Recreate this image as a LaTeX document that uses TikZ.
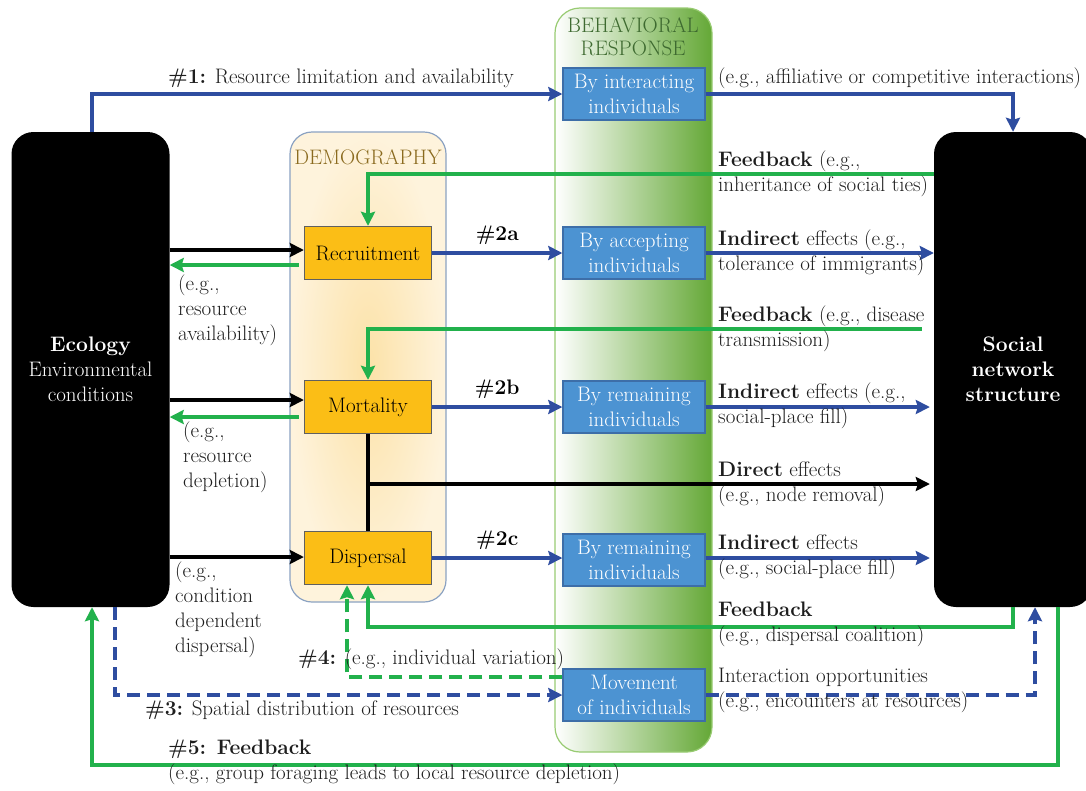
\documentclass[tikz,border=0pt]{standalone}
\usepackage{fontspec}
\usetikzlibrary{arrows.meta,positioning}

\definecolor{arrblue}{HTML}{2E4DA0}
\definecolor{arrgreen}{HTML}{22B14C}
\definecolor{boxblue}{HTML}{4C93D2}
\definecolor{boxblueline}{HTML}{3D6EA8}
\definecolor{boxorange}{HTML}{FBBE16}
\definecolor{demoline}{HTML}{8BA2C2}
\definecolor{demoin}{HTML}{FCE2A8}
\definecolor{demoout}{HTML}{FEF3DC}
\definecolor{behgreen}{HTML}{64A836}
\definecolor{behline}{HTML}{98CB72}
\definecolor{demotext}{HTML}{8A6A1E}
\definecolor{behtext}{HTML}{3E6A30}
\definecolor{lbltext}{HTML}{1E1E1E}

\tikzset{
  bigbox/.style={fill=black, rounded corners=22pt, text=white, align=center,
    minimum width=158pt, minimum height=475pt, inner sep=0pt},
  demobox/.style={fill=boxorange, draw=gray!75!black, line width=1.4pt,
    minimum width=127pt, minimum height=53pt, inner sep=0pt},
  behbox/.style={fill=boxblue, draw=boxblueline, line width=1.4pt, text=white,
    minimum width=142pt, minimum height=52pt, inner sep=0pt, align=center},
  lbl/.style={anchor=west, inner sep=0pt, align=left, text=lbltext},
  blueline/.style={arrblue, line width=4pt},
  greenline/.style={arrgreen, line width=4pt},
  blackline/.style={black, line width=4.5pt},
  bluedash/.style={arrblue, line width=4.5pt, dash pattern=on 13pt off 7pt},
  greendash/.style={arrgreen, line width=4.5pt, dash pattern=on 13pt off 7pt},
}

\begin{document}
\begin{tikzpicture}[x=1pt, y=-1pt, >={Stealth[length=14pt,width=14pt,inset=2pt]},
  font=\fontsize{21}{25}\selectfont]
\useasboundingbox (0,0) rectangle (1086,790);

% columns in the background
\node[draw=demoline, line width=1.2pt, rounded corners=22pt, inner color=demoin, outer color=demoout,
  minimum width=156pt, minimum height=470pt] (demo) at (368,367) {};
\node[text=demotext] (demotitle) at (368,157) {DEMOGRAPHY};
\node[draw=behline, line width=1.2pt, rounded corners=25pt, left color=white, right color=behgreen,
  minimum width=157pt, minimum height=744pt] (beh) at (633.5,380) {};
\node[text=behtext, align=center, font=\fontsize{21}{23}\selectfont] (behtitle) at (633,37) {BEHAVIORAL\\RESPONSE};

% ecology and social network
\node[bigbox] (eco) at (90.5,369.5) {\textbf{Ecology}\\Environmental\\conditions};
\node[bigbox] (social) at (1013,369.5) {\textbf{Social}\\\textbf{network}\\\textbf{structure}};

% demography boxes
\node[demobox] (recr) at (368,253) {Recruitment};
\node[demobox] (mort) at (368,407) {Mortality};
\node[demobox] (disp) at (368,558) {Dispersal};

% behavioral boxes
\node[behbox] (inter) at (634,94) {By interacting\\individuals};
\node[behbox] (accept) at (634,253) {By accepting\\individuals};
\node[behbox] (remainb) at (634,407) {By remaining\\individuals};
\node[behbox] (remainc) at (634,560) {By remaining\\individuals};
\node[behbox] (move) at (634,695) {Movement\\of individuals};

% #1
\draw[blueline,->] ([xshift=1.5pt]eco.north) |- (inter.west);
\draw[blueline,->] (inter.east) -| (social.north);

% ecology -> demography
\draw[blackline,->] ([yshift=3pt]recr.west -| eco.east) -- ([yshift=3pt]recr.west);
\draw[greenline,->] ([xshift=-5pt,yshift=-12pt]recr.west) -- ([yshift=-12pt]recr.west -| eco.east);
\draw[blackline,->] ([yshift=7pt]mort.west -| eco.east) -- ([yshift=7pt]mort.west);
\draw[greenline,->] ([xshift=-5pt,yshift=-10pt]mort.west) -- ([yshift=-10pt]mort.west -| eco.east);
\draw[blackline,->] ([yshift=1pt]disp.west -| eco.east) -- ([yshift=1pt]disp.west);

% #2a, #2b, #2c
\draw[blueline,->] (recr.east) -- node[above=3pt, text=black] {\textbf{\#2a}} (accept.west);
\draw[blueline,->] (mort.east) -- node[above=3pt, text=black] {\textbf{\#2b}} (remainb.west);
\draw[blueline,->] (disp.east) -- node[above=3pt, text=black] {\textbf{\#2c}} (disp.east -| remainc.west);
\draw[blueline,->] (accept.east) -- (accept.east -| social.west);
\draw[blueline,->] (remainb.east) -- ([xshift=-4pt]remainb.east -| social.west);
\draw[blueline,->] ([yshift=2pt]remainc.east) -- ([xshift=-4pt,yshift=2pt]remainc.east -| social.west);

% direct effects
\coordinate (split) at (368,484);
\draw[blackline] (mort.south) -- (disp.north);
\draw[blackline,->] (split) -- ([xshift=-4pt]split -| social.west);

% feedback
\draw[greenline,->] (social.west |- 0,174) -| (recr.north);
\draw[greenline,->] ([xshift=-12pt]social.west |- 0,329) -| (mort.north);
\draw[greenline,->] (social.south) -- ++(0,20) -| (disp.south);
\draw[greendash,->] ([yshift=18pt]move.west) -| ([xshift=-21pt]disp.south);

% #3 and #5
\draw[bluedash,->] ([xshift=24.5pt]eco.south) |- (move.west);
\draw[bluedash,->] (move.east) -| ([xshift=22pt]social.south);
\draw[greenline,->] ([xshift=45pt]social.south) -- ++(0,158) -| ([xshift=1.5pt]eco.south);

% labels
\node[lbl] (l1) at (168,78) {\textbf{\#1:} Resource limitation and availability};
\node[lbl] (l2) at (718,78) {(e.g., affiliative or competitive interactions)};
\node[lbl] (l3) at (718,173.5) {\textbf{Feedback} (e.g.,\\inheritance of social ties)};
\node[lbl] (l4) at (178,310) {(e.g.,\\resource\\availability)};
\node[lbl] (l6) at (718,252.5) {\textbf{Indirect} effects (e.g.,\\tolerance of immigrants)};
\node[lbl] (l7) at (718,329) {\textbf{Feedback} (e.g., disease\\transmission)};
\node[lbl] (l8) at (183,457.5) {(e.g.,\\resource\\depletion)};
\node[lbl] (l9) at (718,405.5) {\textbf{Indirect} effects (e.g.,\\social-place fill)};
\node[lbl] (l10) at (718,484.5) {\textbf{Direct} effects\\(e.g., node removal)};
\node[lbl] (l11) at (175,610) {(e.g.,\\condition\\dependent\\dispersal)};
\node[lbl] (l12) at (718,557) {\textbf{Indirect} effects\\(e.g., social-place fill)};
\node[lbl] (l13) at (718,624.5) {\textbf{Feedback}\\(e.g., dispersal coalition)};
\node[lbl] (l14) at (298,659) {\textbf{\#4:} (e.g., individual variation)};
\node[lbl] (l15) at (718,690) {Interaction opportunities\\(e.g., encounters at resources)};
\node[lbl] (l16) at (145,710) {\textbf{\#3:} Spatial distribution of resources};
\node[lbl] (l17) at (168,762.5) {\textbf{\#5: Feedback}\\(e.g., group foraging leads to local resource depletion)};

\end{tikzpicture}
\end{document}
